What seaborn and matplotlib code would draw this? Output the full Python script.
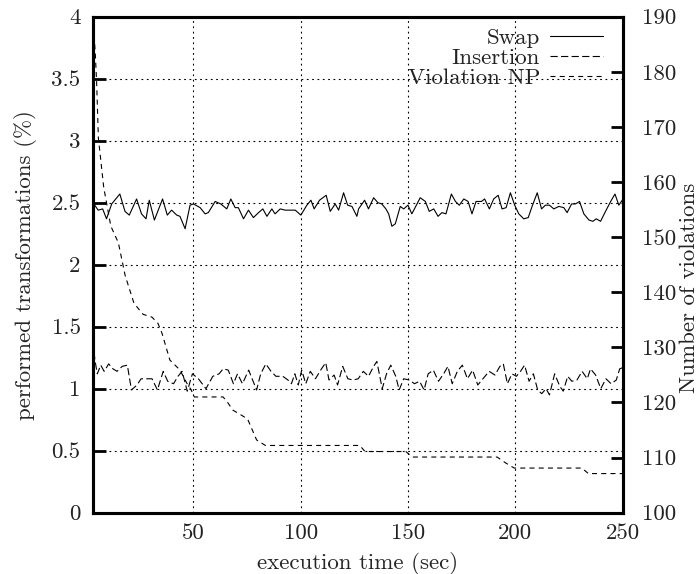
import matplotlib
matplotlib.use("Agg")
import matplotlib.pyplot as plt
import seaborn as sns

# ---------------- data ----------------
swap_time = [3.3, 5.7, 7.8, 9.6, 12.0, 15.8, 18.2, 20.2, 23.6, 25.9, 28.0, 29.5, 31.9, 35.7,
             37.9, 39.9, 42.3, 43.8, 46.2, 48.5, 50.1, 53.2, 55.5, 57.0, 60.2, 62.8, 65.6,
             67.5, 69.5, 71.0, 73.4, 75.7, 78.0, 80.4, 82.4, 84.3, 86.6, 88.1, 90.5, 92.8,
             95.1, 97.5, 100.1, 102.9, 104.8, 106.3, 108.8, 111.9, 113.8, 116.1, 117.7,
             120.0, 121.9, 123.9, 126.2, 127.0, 129.8, 131.6, 134.0, 136.0, 137.8, 139.7,
             141.0, 142.5, 144.1, 146.4, 148.0, 150.0, 151.8, 155.7, 158.1, 159.9, 162.0,
             164.0, 165.8, 167.7, 170.2, 172.1, 173.9, 176.0, 178.0, 179.8, 181.7, 184.2,
             185.7, 187.9, 189.9, 192.0, 193.8, 195.7, 197.7, 199.7, 201.6, 203.9, 206.0,
             207.8, 210.2, 212.2, 214.0, 215.9, 217.9, 220.3, 222.6, 224.1, 226.2, 228.0,
             229.9, 231.9, 234.3, 236.1, 237.7, 239.7, 242.0, 244.4, 246.4, 248.2, 249.8]
swap_pct = [2.50, 2.44, 2.45, 2.37, 2.49, 2.57, 2.43, 2.40, 2.53, 2.41, 2.37, 2.52, 2.36, 2.53,
            2.40, 2.44, 2.40, 2.39, 2.29, 2.48, 2.49, 2.46, 2.41, 2.42, 2.51, 2.49, 2.45,
            2.53, 2.46, 2.46, 2.37, 2.44, 2.38, 2.42, 2.45, 2.39, 2.45, 2.41, 2.45, 2.44,
            2.44, 2.44, 2.40, 2.48, 2.52, 2.45, 2.52, 2.56, 2.43, 2.49, 2.44,
            2.58, 2.48, 2.47, 2.39, 2.45, 2.52, 2.45, 2.54, 2.50, 2.49, 2.45,
            2.41, 2.31, 2.33, 2.47, 2.45, 2.48, 2.41, 2.54, 2.51, 2.43, 2.45,
            2.39, 2.42, 2.41, 2.57, 2.51, 2.48, 2.53, 2.51, 2.41, 2.51, 2.51,
            2.53, 2.45, 2.53, 2.56, 2.45, 2.46, 2.58, 2.48, 2.41, 2.37, 2.38,
            2.47, 2.58, 2.45, 2.48, 2.48, 2.45, 2.47, 2.46, 2.42, 2.49, 2.49,
            2.51, 2.41, 2.36, 2.35, 2.37, 2.35, 2.43, 2.51, 2.57, 2.48, 2.52]

ins_time = [3.3, 4.2, 5.3, 6.9, 8.5, 10.6, 12.6, 14.5, 16.9, 19.3, 21.2, 23.8, 25.7, 28.1,
            30.8, 33.3, 36.0, 38.1, 40.8, 42.9, 44.8, 47.2, 49.6, 52.4, 55.9, 59.1, 62.0,
            63.9, 66.3, 68.7, 70.6, 72.9, 75.8, 77.4, 79.5, 81.4, 83.8, 86.2, 88.5, 91.7,
            94.1, 95.7, 97.3, 98.9, 100.5, 102.4, 104.5, 106.9, 109.7, 111.7, 113.2, 115.6,
            117.2, 119.6, 122.0, 124.4, 126.8, 129.2, 131.6, 134.0, 135.5, 138.0, 140.0,
            142.0, 144.3, 145.9, 148.0, 150.7, 153.0, 155.4, 157.5, 159.4, 161.8, 164.2,
            166.6, 168.6, 170.6, 173.0, 175.3, 177.7, 180.1, 182.5, 184.9, 187.8, 190.5,
            192.8, 194.4, 196.3, 198.4, 200.5, 202.4, 204.3, 206.4, 208.4, 210.4, 212.3,
            214.3, 215.9, 218.3, 220.7, 222.3, 224.4, 226.3, 228.7, 231.1, 233.5, 235.0,
            237.4, 239.8, 242.2, 244.6, 247.0, 248.6, 250.0]
ins_pct = [1.38, 1.23, 1.12, 1.19, 1.14, 1.20, 1.16, 1.14, 1.18, 1.19, 0.99, 1.03, 1.08, 1.08,
           1.08, 0.99, 1.14, 1.06, 1.04, 1.10, 1.14, 0.98, 1.12, 1.08, 1.00, 1.10, 1.12,
           1.16, 1.15, 1.04, 1.12, 1.04, 1.15, 1.08, 0.99, 1.12, 1.20, 1.14, 1.10, 1.10,
           1.07, 1.04, 1.12, 1.03, 1.15, 1.04, 1.14, 1.08, 1.16, 1.21, 1.07, 1.11,
           1.03, 1.18, 1.08, 1.07, 1.08, 1.14, 1.10, 1.18, 1.22, 1.00, 1.12,
           1.19, 1.10, 0.99, 1.08, 1.07, 1.04, 1.06, 0.99, 1.12, 1.15, 1.06,
           1.12, 1.18, 1.04, 1.14, 1.19, 1.08, 1.15, 1.03, 1.08, 1.14, 1.11,
           1.18, 1.20, 1.04, 1.12, 1.10, 1.14, 1.19, 1.06, 1.12, 0.99, 0.96,
           1.00, 0.95, 1.12, 1.02, 0.98, 1.10, 1.06, 1.07, 1.14, 1.08, 1.16,
           1.11, 1.00, 1.08, 1.04, 1.07, 1.16, 1.17]

viol_time = [3.3, 4.4, 5.0, 5.8, 8.3, 11.6, 15.1, 18.3, 22.4, 26.6, 30.7, 33.5, 35.4, 39.1,
             43.8, 47.0, 49.0, 50.5, 63.9, 66.0, 68.5, 72.0, 75.3, 79.5, 83.6, 127.5, 130.0,
             149.0, 152.0, 191.5, 195.6, 199.5, 231.0, 234.0, 250.0]
viol_count = [190, 183, 178, 168, 159, 152, 149, 143, 138, 136, 135.5, 134.4, 132.6, 127.7,
              125.9, 123.5, 122.3, 121, 121, 120, 118.6, 117.8, 117, 113.2, 112.2, 112.2, 111.1,
              111.1, 110.1, 110.1, 109, 108.1, 108.1, 107.1, 107.1]

x_ticks = [50, 100, 150, 200, 250]
y_ticks = [0, 0.5, 1, 1.5, 2, 2.5, 3, 3.5, 4]
y_tick_labels = ["0", "0.5", "1", "1.5", "2", "2.5", "3", "3.5", "4"]
y2_ticks = [100, 110, 120, 130, 140, 150, 160, 170, 180, 190]

# ---------------- style ----------------
sns.set_style("white")
plt.rcParams["font.family"] = ["cmr10", "DejaVu Serif"]
plt.rcParams["axes.formatter.use_mathtext"] = True
plt.rcParams["font.size"] = 16.5
plt.rcParams["text.color"] = "#222222"

W, H = 698, 574
fig = plt.figure(figsize=(W / 100, H / 100), dpi=100)
left, right, top, bottom = 93, 622.7, 16.7, 512.7
ax = fig.add_axes([left / W, 1 - bottom / H, (right - left) / W, (bottom - top) / H])
ax2 = ax.twinx()

lw = 0.8
sns.lineplot(x=swap_time, y=swap_pct, ax=ax, color="black", lw=lw, sort=False,
             estimator=None, label="Swap", legend=False)
sns.lineplot(x=ins_time, y=ins_pct, ax=ax, color="black", lw=lw, sort=False,
             estimator=None, label="Insertion", legend=False, linestyle=(0, (6.5, 3.0)))
sns.lineplot(x=viol_time, y=viol_count, ax=ax2, color="black", lw=lw, sort=False,
             estimator=None, label="Violation NP", legend=False, linestyle=(0, (4.5, 3.8)))

ax.set_xlim(3.3, 250)
ax.set_ylim(0, 4)
ax2.set_ylim(100, 190)
ax.set_xticks(x_ticks)
ax.set_xticklabels([str(v) for v in x_ticks])
ax.set_yticks(y_ticks)
ax.set_yticklabels(y_tick_labels)
ax2.set_yticks(y2_ticks)
ax2.set_yticklabels([str(v) for v in y2_ticks])

ax.grid(True, color="black", linestyle=(0, (1.6, 3.2)), linewidth=0.8)
ax2.grid(False)

for a in (ax, ax2):
    for s in a.spines.values():
        s.set_linewidth(2.2)
        s.set_color("black")

ax.tick_params(axis="both", direction="in", length=9, width=2, top=False, right=False,
               colors="black", labelcolor="#222222")
ax.tick_params(axis="y", pad=9)
ax.tick_params(axis="x", pad=8)
ax2.tick_params(axis="y", direction="in", length=9, width=2, right=True, left=False,
                pad=14, colors="black", labelcolor="#222222")

ax.set_xlabel("execution time (sec)", labelpad=6)
ax.set_ylabel("performed transformations (%)", labelpad=10)
fig.text(679 / W, 1 - 288 / H, "Number of violations", rotation=90, ha="left",
         va="center", fontsize=16.5, color="#222222")

handles = ax.get_lines()[:2] + ax2.get_lines()[:1]
labels = ["Swap", "Insertion", "Violation NP"]
ax_w = right - left
ax_h = bottom - top
ax2.legend(handles, labels, loc="upper right", frameon=False, markerfirst=False,
           handlelength=2.3, handletextpad=0.45, labelspacing=0.0,
           borderaxespad=0.0, borderpad=0.0,
           bbox_to_anchor=(1 - (right - 603) / ax_w, 1 - (27.5 - top) / ax_h))

fig.savefig("out.png", dpi=100)
